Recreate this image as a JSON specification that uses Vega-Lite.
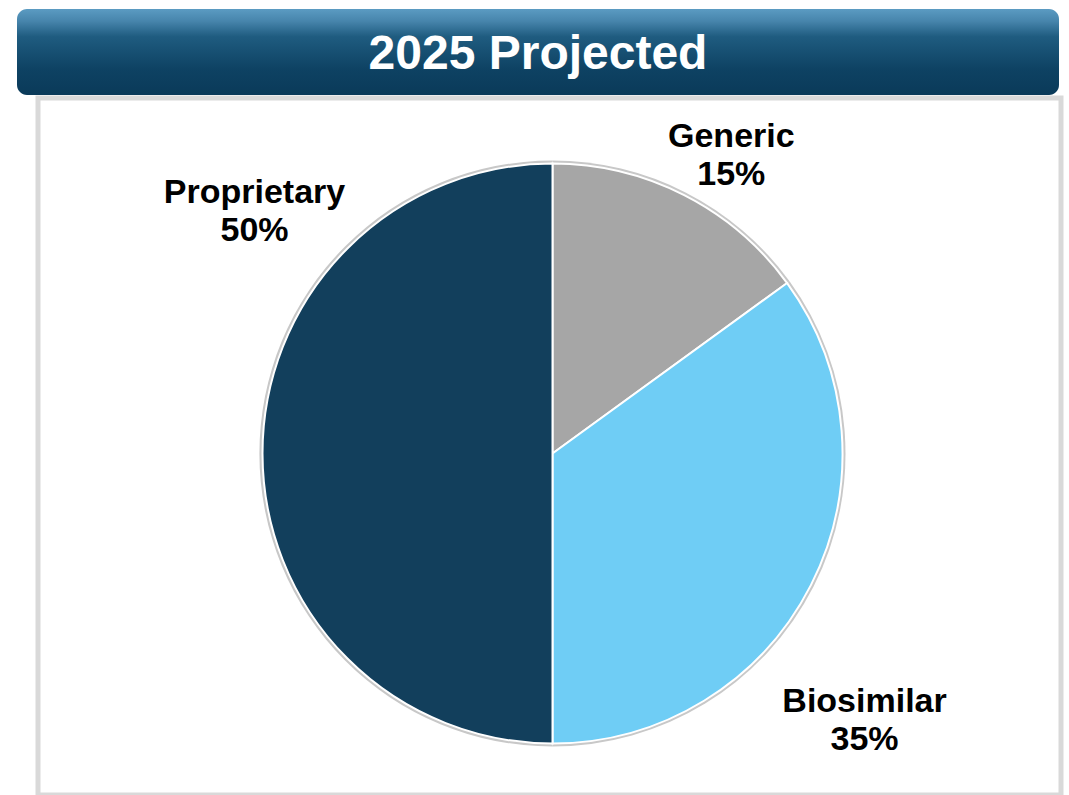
{
  "$schema": "https://vega.github.io/schema/vega-lite/v6.json",
  "background": "white",
  "padding": {"left": 0, "top": 9, "right": 0, "bottom": 0},
  "config": {"view": {"stroke": null}, "concat": {"spacing": 0}, "font": "Liberation Sans"},
  "datasets": {
    "shares": [
      {"category": "Generic", "share": 15},
      {"category": "Biosimilar", "share": 35},
      {"category": "Proprietary", "share": 50}
    ],
    "banner": [{"title": "2025 Projected"}]
  },
  "vconcat": [
    {
      "spacing": 0,
      "hconcat": [
        {"width": 17, "height": 86, "data": {"name": "banner"}, "mark": {"type": "point", "opacity": 0}, "encoding": {}},
        {
          "width": 1042, "height": 86,
          "data": {"name": "banner"},
          "view": {
            "stroke": null,
            "cornerRadius": 10,
            "fill": {"gradient": "linear", "x1": 0, "y1": 0, "x2": 0, "y2": 1,
              "stops": [
                {"offset": 0, "color": "#5b9bc2"},
                {"offset": 0.14, "color": "#4785ac"},
                {"offset": 0.32, "color": "#1f5c80"},
                {"offset": 0.7, "color": "#0e4263"},
                {"offset": 1, "color": "#0a3a59"}
              ]}
          },
          "mark": {"type": "text", "color": "white", "fontSize": 48, "fontWeight": "bold", "baseline": "middle", "align": "center", "dy": 3},
          "encoding": {"text": {"field": "title"}}
        }
      ]
    },
    {
      "spacing": 0,
      "hconcat": [
        {"width": 35, "height": 697, "data": {"name": "banner"}, "mark": {"type": "point", "opacity": 0}, "encoding": {}},
        {
          "width": 1023, "height": 697,
          "data": {"name": "shares"},
          "view": {"stroke": "#d9d9d9", "strokeWidth": 5, "fill": "white"},
          "transform": [
            {"stack": "share", "groupby": [], "as": ["t0", "t1"]},
            {"calculate": "(datum.t0 + datum.t1) / 2", "as": "mid"},
            {"calculate": "datum.category + '\\n' + datum.share + '%'", "as": "label"}
          ],
          "layer": [
            {
              "mark": {"type": "arc", "radius": 293, "color": "#c8c8c8", "xOffset": 3, "yOffset": 7},
              "encoding": {
                "theta": {"field": "t0", "type": "quantitative", "scale": {"domain": [0, 100]}},
                "theta2": {"field": "t1"}
              }
            },
            {
              "mark": {"type": "arc", "radius": 290, "stroke": "white", "strokeWidth": 2, "xOffset": 3, "yOffset": 7},
              "encoding": {
                "theta": {"field": "t0", "type": "quantitative", "scale": {"domain": [0, 100]}},
                "theta2": {"field": "t1"},
                "color": {"field": "category", "type": "nominal", "legend": null,
                  "scale": {"domain": ["Generic", "Biosimilar", "Proprietary"], "range": ["#a6a6a6", "#6fcdf5", "#123f5c"]}}
              }
            },
            {
              "transform": [{"filter": "datum.category === 'Generic'"}],
              "mark": {"type": "text", "radius": 330, "dx": 32, "dy": -15, "fontSize": 34, "fontWeight": "bold", "lineBreak": "\n", "lineHeight": 38, "align": "center", "baseline": "middle", "color": "black"},
              "encoding": {
                "theta": {"field": "mid", "type": "quantitative", "scale": {"domain": [0, 100]}},
                "text": {"field": "label"}
              }
            },
            {
              "transform": [{"filter": "datum.category === 'Biosimilar'"}],
              "mark": {"type": "text", "radius": 330, "dx": 21, "dy": 106, "fontSize": 34, "fontWeight": "bold", "lineBreak": "\n", "lineHeight": 38, "align": "center", "baseline": "middle", "color": "black"},
              "encoding": {
                "theta": {"field": "mid", "type": "quantitative", "scale": {"domain": [0, 100]}},
                "text": {"field": "label"}
              }
            },
            {
              "transform": [{"filter": "datum.category === 'Proprietary'"}],
              "mark": {"type": "text", "radius": 330, "dx": 35, "dy": -254, "fontSize": 34, "fontWeight": "bold", "lineBreak": "\n", "lineHeight": 38, "align": "center", "baseline": "middle", "color": "black"},
              "encoding": {
                "theta": {"field": "mid", "type": "quantitative", "scale": {"domain": [0, 100]}},
                "text": {"field": "label"}
              }
            }
          ]
        }
      ]
    }
  ]
}
